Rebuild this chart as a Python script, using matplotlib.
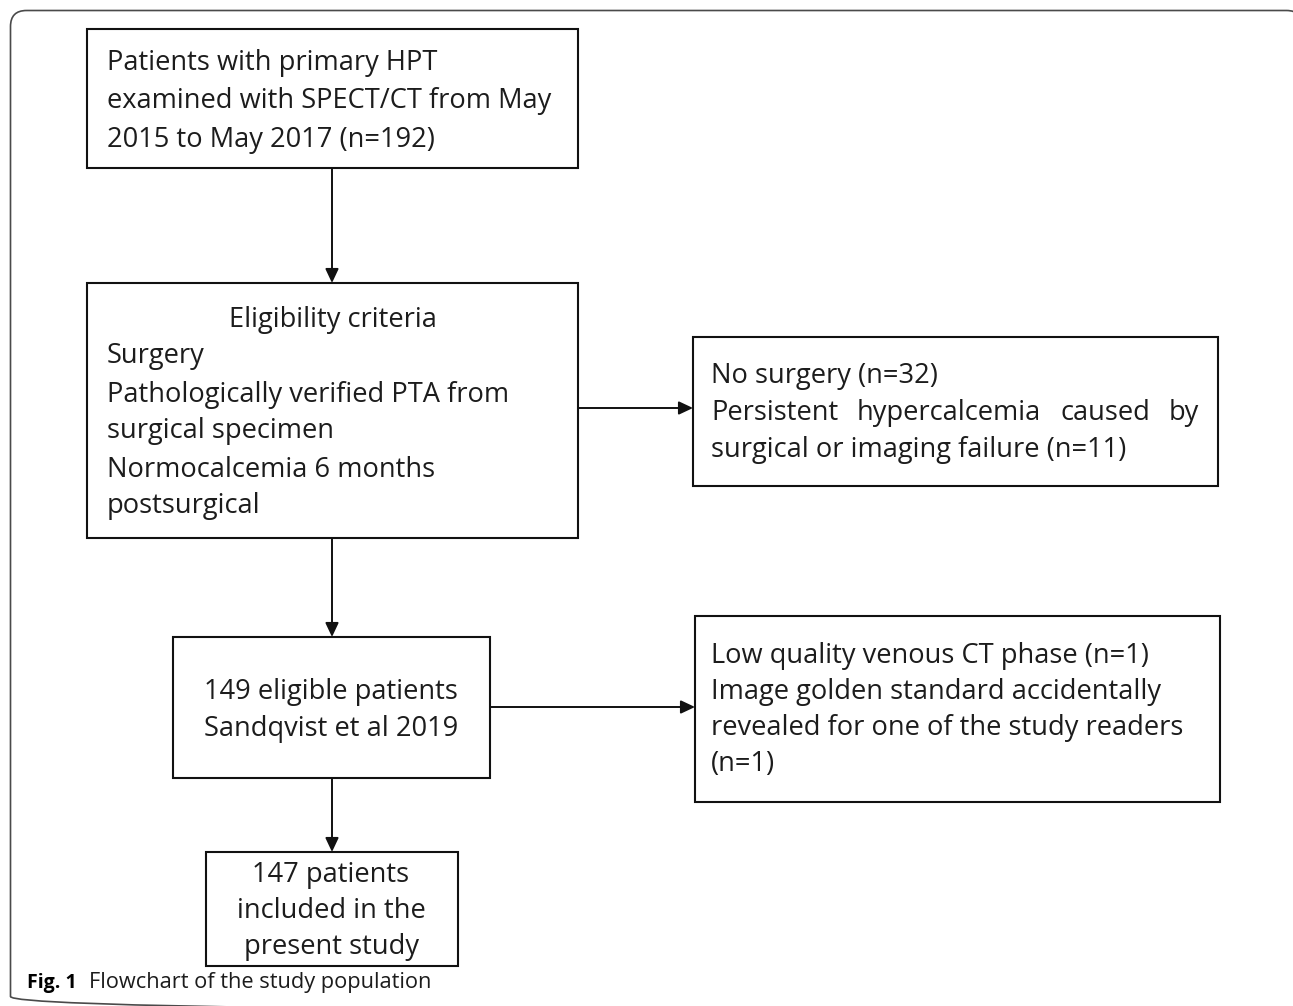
import matplotlib
matplotlib.use("Agg")
import matplotlib.pyplot as plt
from matplotlib.patches import Rectangle, FancyBboxPatch, Polygon

FONT = "Open Sans"
FS = 19.6
TXT = "#1c1c1c"

box1_lines = ["Patients with primary HPT", "examined with SPECT/CT from May", "2015 to May 2017 (n=192)"]
box2_title = "Eligibility criteria"
box2_lines = ["Surgery", "Pathologically verified PTA from", "surgical specimen", "Normocalcemia 6 months", "postsurgical"]
box3_lines = ["No surgery (n=32)", "Persistent hypercalcemia caused by", "surgical or imaging failure (n=11)"]
box4_lines = ["149 eligible patients", "Sandqvist et al 2019"]
box5_lines = ["Low quality venous CT phase (n=1)", "Image golden standard accidentally", "revealed for one of the study readers", "(n=1)"]
box6_lines = ["147 patients", "included in the", "present study"]
caption_bold = "Fig. 1"
caption_text = "Flowchart of the study population"

W, H = 1293, 1006
fig = plt.figure(figsize=(W / 100, H / 100), dpi=100)
ax = fig.add_axes([0, 0, 1, 1])
ax.set_xlim(0, W)
ax.set_ylim(H, 0)
ax.axis("off")

# outer rounded frame (right and bottom edges fall outside the image)
frame = FancyBboxPatch((10.5, 10.5), 1292, 1002, boxstyle="round,pad=0,rounding_size=16",
                       fill=False, ec="#4a4a4a", lw=1.2)
ax.add_patch(frame)
clip = Polygon([(0, 0), (W, 0), (W, 900), (1250, 900), (1250, H), (0, H)],
               closed=True, transform=ax.transData, fill=False, visible=False)
ax.add_patch(clip)
frame.set_clip_path(clip)

def box(x0, y0, x1, y1):
    ax.add_patch(Rectangle((x0, y0), x1 - x0, y1 - y0, fill=False, ec="#111111", lw=1.5))

def arrow(x0, y0, x1, y1):
    ax.annotate("", xy=(x1, y1), xytext=(x0, y0),
                arrowprops=dict(arrowstyle="-|>,head_length=0.85,head_width=0.4",
                                color="#111111", lw=1.4, shrinkA=0, shrinkB=0))

def lines(texts, x, ys, ha="left"):
    for t, y in zip(texts, ys):
        ax.text(x, y, t, ha=ha, va="baseline", fontsize=FS, family=FONT, color=TXT)

# boxes
box(87, 29, 578, 168)
box(87, 283, 578, 538)
box(693, 337, 1218, 486)
box(695, 616, 1220, 802)
box(173, 637, 490, 778)
box(206, 852, 458, 966)

# arrows
arrow(332, 168, 332, 283)
arrow(578, 408, 693, 408)
arrow(332, 538, 332, 637)
arrow(490, 707, 695, 707)
arrow(332, 778, 332, 852)

# texts
lines(box1_lines, 107, [70, 108, 147])
ax.text(333, 327, box2_title, ha="center", va="baseline", fontsize=FS, family=FONT, color=TXT)
lines(box2_lines, 107, [363, 402, 438, 477, 513])

# box3 with justified middle line
lines([box3_lines[0], box3_lines[2]], 711, [383, 457])
words = box3_lines[1].split()
fig.canvas.draw()
renderer = fig.canvas.get_renderer()
tmp = []
total = 0
for w in words:
    t = ax.text(0, 420, w, ha="left", va="baseline", fontsize=FS, family=FONT, color=TXT)
    bb = t.get_window_extent(renderer)
    tmp.append((t, bb.width))
    total += bb.width
x_left, x_right = 711, 1199
gap = (x_right - x_left - total) / (len(words) - 1)
xc = x_left
for t, wd in tmp:
    t.set_x(xc)
    xc += wd + gap

lines(box4_lines, 331, [699, 736], ha="center")
lines(box5_lines, 711, [663, 699, 735, 771])
lines(box6_lines, 331, [882, 918, 954], ha="center")

# caption
ax.text(27, 988, caption_bold, ha="left", va="baseline", fontsize=14, family=FONT,
        fontweight="bold", color="black")
ax.text(89, 988, caption_text, ha="left", va="baseline", fontsize=15.7, family=FONT, color=TXT)

fig.savefig("out.png", dpi=100, facecolor="white")
